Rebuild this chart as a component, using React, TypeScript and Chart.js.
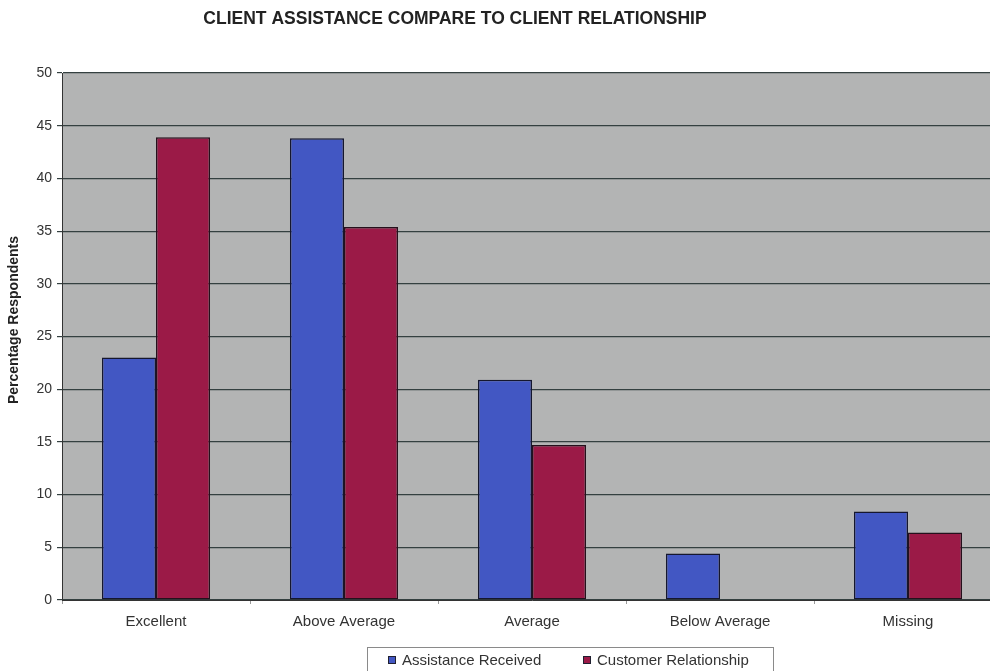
import React, { useEffect, useRef } from "react";
import { Chart, registerables } from "chart.js";

Chart.register(...registerables);

const categories = ["Excellent", "Above Average", "Average", "Below Average", "Missing"];
const assistanceReceived = [23, 43.8, 20.9, 4.4, 8.4];
const customerRelationship = [43.9, 35.4, 14.7, 0, 6.4];
const seriesLabels = ["Assistance Received", "Customer Relationship"];
const chartTitle = "CLIENT ASSISTANCE COMPARE TO CLIENT RELATIONSHIP";
const yAxisTitle = "Percentage Respondents";
const yMin = 0;
const yMax = 50;
const yStep = 5;

const FONT = "'Liberation Sans', Arial, sans-serif";

const bgPlugin = {
  id: "plotBg",
  beforeDraw(chart: any) {
    const { ctx, chartArea } = chart;
    ctx.save();
    ctx.fillStyle = "#b3b4b4";
    ctx.fillRect(chartArea.left, chartArea.top, chartArea.right - chartArea.left, chartArea.bottom - chartArea.top);
    ctx.restore();
  },
};

const titleLegendPlugin = {
  id: "titleLegend",
  afterDraw(chart: any) {
    const { ctx } = chart;
    ctx.save();
    // title
    ctx.fillStyle = "#222";
    ctx.font = `bold 17.5px ${FONT}`;
    ctx.textAlign = "center";
    ctx.textBaseline = "middle";
    ctx.fillText(chartTitle, 455, 19);

    // y axis title
    ctx.save();
    ctx.translate(14, 320);
    ctx.rotate(-Math.PI / 2);
    ctx.font = `bold 14px ${FONT}`;
    ctx.fillStyle = "#222";
    ctx.fillText(yAxisTitle, 0, 0);
    ctx.restore();

    // legend box
    ctx.strokeStyle = "#8a8a8a";
    ctx.lineWidth = 1;
    ctx.strokeRect(367.5, 647.5, 406, 40);
    ctx.font = `15px ${FONT}`;
    ctx.textAlign = "left";
    const starts = [388, 583];
    chart.data.datasets.forEach((ds: any, i: number) => {
      const x = starts[i];
      ctx.fillStyle = ds.backgroundColor;
      ctx.fillRect(x, 656, 8, 8);
      ctx.strokeStyle = "#202030";
      ctx.strokeRect(x + 0.5, 656.5, 7, 7);
      ctx.fillStyle = "#333";
      ctx.fillText(ds.label, x + 14, 661);
    });
    ctx.restore();
  },
};

export default function App() {
  const ref = useRef<HTMLCanvasElement | null>(null);

  useEffect(() => {
    if (!ref.current) return;
    const chart = new Chart(ref.current, {
      type: "bar",
      data: {
        labels: categories,
        datasets: [
          {
            label: seriesLabels[0],
            data: assistanceReceived,
            backgroundColor: "#4257c3",
            borderColor: "#15172e",
            borderWidth: 1.5,
            borderSkipped: false,
            categoryPercentage: 0.575,
            barPercentage: 1,
          },
          {
            label: seriesLabels[1],
            data: customerRelationship,
            backgroundColor: "#9b1a47",
            borderColor: "#25101c",
            borderWidth: 1.5,
            borderSkipped: false,
            categoryPercentage: 0.575,
            barPercentage: 1,
          },
        ],
      },
      options: {
        responsive: false,
        animation: false,
        layout: { padding: { top: 73, right: 8, bottom: 0, left: 0 } },
        plugins: {
          legend: { display: false },
          title: { display: false },
          tooltip: { enabled: false },
        },
        scales: {
          x: {
            afterFit(scale: any) {
              scale.height = 71;
            },
            grid: {
              display: true,
              drawOnChartArea: false,
              drawTicks: true,
              tickLength: 4,
              color: "#9a9a9a",
              offset: true,
            },
            border: { display: true, color: "#333", width: 1 },
            ticks: {
              color: "#333",
              font: { family: FONT, size: 15 },
              padding: 9,
              maxRotation: 0,
            },
          },
          y: {
            min: yMin,
            max: yMax,
            afterFit(scale: any) {
              scale.width = 62;
            },
            ticks: {
              stepSize: yStep,
              color: "#333",
              font: { family: FONT, size: 14 },
              padding: 5,
            },
            grid: {
              color: "#344040",
              lineWidth: 1.2,
              tickLength: 5,
            },
            border: { display: true, color: "#333", width: 1 },
            title: { display: false },
          },
        },
      },
      plugins: [bgPlugin, titleLegendPlugin],
    });
    return () => chart.destroy();
  }, []);

  return (
    <div
      style={{
        position: "fixed",
        left: 0,
        top: 0,
        width: 990,
        height: 671,
        overflow: "hidden",
        background: "#ffffff",
      }}
    >
      <canvas ref={ref} width={1010} height={671} style={{ display: "block" }} />
    </div>
  );
}
